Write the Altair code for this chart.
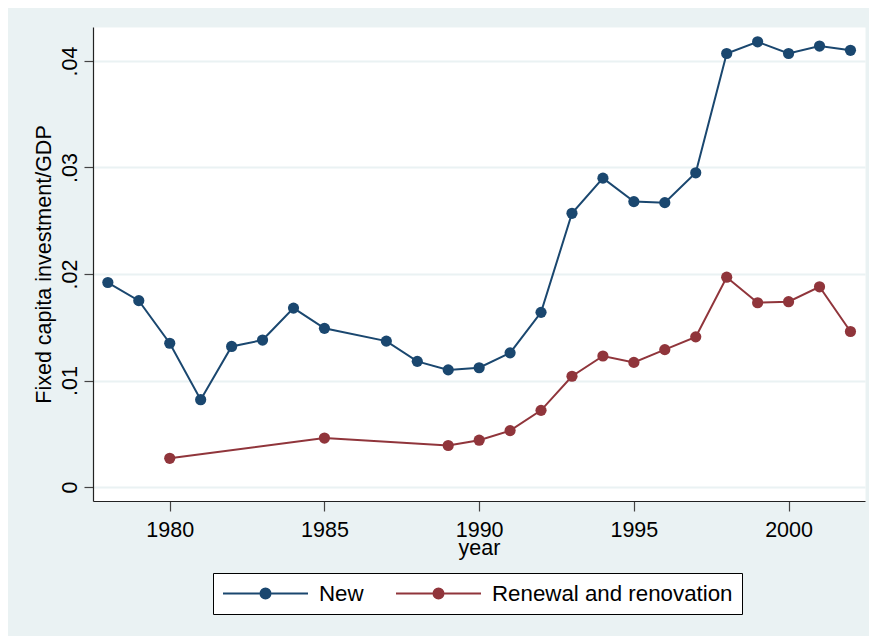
import altair as alt
import pandas as pd

series_names = ["New", "Renewal and renovation"]
series_colors = ["#1a476f", "#90353b"]

years_new = [1978, 1979, 1980, 1981, 1982, 1983, 1984, 1985, 1987, 1988, 1989, 1990,
             1991, 1992, 1993, 1994, 1995, 1996, 1997, 1998, 1999, 2000, 2001, 2002]
vals_new = [0.0192, 0.0175, 0.0135, 0.0082, 0.0132, 0.0138, 0.0168, 0.0149, 0.0137, 0.0118,
            0.0110, 0.0112, 0.0126, 0.0164, 0.0257, 0.0290, 0.0268, 0.0267, 0.0295, 0.0407,
            0.0418, 0.0407, 0.0414, 0.0410]

years_ren = [1980, 1985, 1989, 1990, 1991, 1992, 1993, 1994, 1995, 1996, 1997, 1998,
             1999, 2000, 2001, 2002]
vals_ren = [0.0027, 0.0046, 0.0039, 0.0044, 0.0053, 0.0072, 0.0104, 0.0123, 0.0117, 0.0129,
            0.0141, 0.0197, 0.0173, 0.0174, 0.0188, 0.0146]

x_ticks = [1980, 1985, 1990, 1995, 2000]
y_ticks = [0, 0.01, 0.02, 0.03, 0.04]

df = pd.concat([
    pd.DataFrame({"year": years_new, "value": vals_new, "series": series_names[0]}),
    pd.DataFrame({"year": years_ren, "value": vals_ren, "series": series_names[1]}),
])

FONT = "Liberation Sans"


def ring(r):
    return f"M{-r},0A{r},{r},0,1,1,{r},0A{r},{r},0,1,1,{-r},0"


# legend glyph (stroke only): a line with a dot built from concentric rings
legend_path = "M-1,0L1,0" + "".join(ring(r) for r in [0.02, 0.05, 0.08, 0.11, 0.118])

chart = alt.Chart(df).mark_line(
    strokeWidth=2,
    point=alt.OverlayMarkDef(size=125, filled=True, opacity=1),
).encode(
    x=alt.X("year:Q",
            scale=alt.Scale(domain=[1977.52, 2002.47], nice=False, zero=False),
            axis=alt.Axis(values=x_ticks, format="d", title="year", grid=False,
                          tickSize=10, labelPadding=8, titlePadding=-3,
                          labelFlush=False)),
    y=alt.Y("value:Q",
            scale=alt.Scale(domain=[-0.00131, 0.04319], nice=False, zero=False),
            axis=alt.Axis(values=y_ticks,
                          labelExpr="datum.value == 0 ? '0' : replace(format(datum.value, '.2f'), '0.', '.')",
                          labelAngle=270, labelAlign="center", labelBaseline="bottom",
                          tickSize=9, labelPadding=3, labelOverlap=False,
                          title="Fixed capita investment/GDP", titlePadding=4)),
    color=alt.Color("series:N",
                    scale=alt.Scale(domain=series_names, range=series_colors),
                    legend=alt.Legend(
                        title=None, orient="none", legendX=120, legendY=546,
                        direction="horizontal", columns=2,
                        symbolType=legend_path, symbolSize=7225,
                        symbolStrokeWidth=2, symbolOpacity=1,
                        clipHeight=23, labelFontSize=22.3, labelFont=FONT,
                        labelColor="black", labelOffset=10, labelLimit=400,
                        columnPadding=31, padding=9, fillColor="white",
                        strokeColor="black", cornerRadius=0,
                    )),
).properties(
    width=772, height=474,
    autosize=alt.AutoSizeParams(type="none"),
    padding={"left": 85, "top": 19, "right": 4, "bottom": 135},
).configure(
    background="#EAF2F3",
).configure_view(
    fill="white", stroke="transparent",
).configure_axis(
    labelFont=FONT, labelFontSize=21.5, labelColor="black",
    titleFont=FONT, titleFontSize=21.5, titleFontWeight="normal", titleColor="black",
    domainColor="#222222", domainWidth=1.2, tickColor="#444444", tickWidth=1.2,
    gridColor="#EAF2F3", gridWidth=2,
)

chart.save("out.html", embed_options={"renderer": "svg", "actions": False})
